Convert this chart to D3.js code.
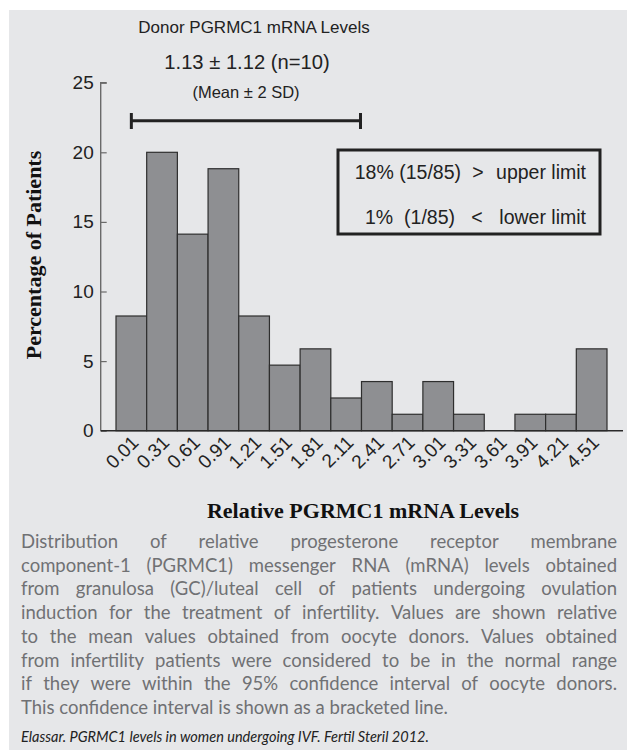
<!DOCTYPE html>
<html><head><meta charset="utf-8">
<script src="https://cdn.jsdelivr.net/npm/d3@7"></script>
<style>
html,body{margin:0;padding:0;background:#fff;}
svg{display:block;}
</style></head>
<body>
<svg id="chart" width="627" height="750"></svg>
<script>
// ---- data ----
const binLabels = ["0.01","0.31","0.61","0.91","1.21","1.51","1.81","2.11","2.41","2.71","3.01","3.31","3.61","3.91","4.21","4.51"];
const binStarts = [0.01,0.31,0.61,0.91,1.21,1.51,1.81,2.11,2.41,2.71,3.01,3.31,3.61,3.91,4.21,4.51];
const percentPatients = [8.24,20.0,14.12,18.82,8.24,4.71,5.88,2.35,3.53,1.18,3.53,1.18,0,1.18,1.18,5.88];
const yTicks = [0,5,10,15,20,25];
const donorMean = 1.13, donorSD = 1.12;
const titleLines = ["Donor PGRMC1 mRNA Levels","1.13 ± 1.12 (n=10)","(Mean ± 2 SD)"];
const legendLines = [["18% (15/85)",">","upper limit"],["1%","(1/85)","<","lower limit"]];
const yTitle = "Percentage of Patients";
const xTitle = "Relative PGRMC1 mRNA Levels";
const captionLines = [
 "Distribution of relative progesterone receptor membrane",
 "component-1 (PGRMC1) messenger RNA (mRNA) levels obtained",
 "from granulosa (GC)/luteal cell of patients undergoing ovulation",
 "induction for the treatment of infertility. Values are shown relative",
 "to the mean values obtained from oocyte donors. Values obtained",
 "from infertility patients were considered to be in the normal range",
 "if they were within the 95% confidence interval of oocyte donors.",
 "This confidence interval is shown as a bracketed line."
];
const sourceText = "Elassar. PGRMC1 levels in women undergoing IVF. Fertil Steril 2012.";

// ---- drawing ----
const svg = d3.select("#chart");
svg.append("rect").attr("x",9).attr("y",10).attr("width",618).attr("height",740).attr("fill","#e6e7e9");

const binW = 0.3;
const x = d3.scaleLinear().domain([binStarts[0]-binW/2, binStarts[binStarts.length-1]+binW/2]).range([116, 607]);
const y = d3.scaleLinear().domain([0,25]).range([430.7, 82.7]);

const g = svg.append("g");
g.selectAll("rect.bar").data(percentPatients).join("rect")
 .attr("class","bar")
 .attr("x",(d,i)=>x(binStarts[i]-binW/2))
 .attr("width",(d,i)=>x(binStarts[i]+binW/2)-x(binStarts[i]-binW/2))
 .attr("y",d=>y(d))
 .attr("height",d=>y(0)-y(d))
 .attr("fill","#8e8f92")
 .attr("stroke",d=>d>0?"#2e2e2e":"none")
 .attr("stroke-width",1.2);

const sans = "Liberation Sans, Arial, sans-serif";
// y axis
const yAxis = d3.axisRight(y).tickValues(yTicks).tickSize(6).tickFormat(d3.format("d"));
const ya = g.append("g").attr("transform","translate(100.7,0)").call(yAxis);
ya.select(".domain").attr("stroke","#6a6a6a").attr("stroke-width",1.4).attr("d","M6,82.7H0V430.7");
ya.selectAll(".tick line").attr("stroke","#6a6a6a").attr("stroke-width",1.2);
ya.selectAll(".tick text").attr("x",-7).attr("text-anchor","end")
  .attr("font-family",sans).attr("font-size",19).attr("fill","#222");

// x axis
const xAxis = d3.axisBottom(x).tickValues(binStarts).tickSize(0).tickFormat((d,i)=>binLabels[i]);
const xa = g.append("g").attr("transform","translate(0,430.7)").call(xAxis);
xa.select(".domain").attr("stroke","#2a2a2a").attr("stroke-width",1.4).attr("d","M100.7,0H623");
xa.selectAll(".tick text")
  .attr("font-family",sans).attr("font-size",19).attr("fill","#222")
  .attr("text-anchor","end").attr("dy",0)
  .attr("transform","translate(8,13) rotate(-45)").attr("y",0).attr("x",0);

// bracket
const lo = donorMean - donorSD, hi = donorMean + donorSD;
const br = g.append("g").attr("stroke","#222").attr("stroke-width",3);
br.append("line").attr("x1",x(lo)).attr("x2",x(hi)).attr("y1",120.7).attr("y2",120.7);
br.append("line").attr("x1",x(lo)).attr("x2",x(lo)).attr("y1",113).attr("y2",129);
br.append("line").attr("x1",x(hi)).attr("x2",x(hi)).attr("y1",113).attr("y2",129);

// titles
const tpos = [[254,33,17],[247,69,20.2],[246,98,16.5]];
titleLines.forEach((t,i)=>{
  svg.append("text").attr("x",tpos[i][0]).attr("y",tpos[i][1]).attr("text-anchor","middle")
   .attr("font-family",sans).attr("font-size",tpos[i][2]).attr("fill","#222").text(t);
});

// legend box
svg.append("rect").attr("x",338).attr("y",150).attr("width",262).attr("height",84)
  .attr("fill","none").attr("stroke","#222").attr("stroke-width",3);
const lg = svg.append("g").attr("font-family",sans).attr("font-size",19.5).attr("fill","#222");
lg.append("text").attr("x",461).attr("y",179).attr("text-anchor","end").text(legendLines[0][0]);
lg.append("text").attr("x",478).attr("y",179).attr("text-anchor","middle").text(legendLines[0][1]);
lg.append("text").attr("x",586).attr("y",179).attr("text-anchor","end").text(legendLines[0][2]);
lg.append("text").attr("x",365).attr("y",224).attr("text-anchor","start").text(legendLines[1][0]);
lg.append("text").attr("x",455).attr("y",224).attr("text-anchor","end").text(legendLines[1][1]);
lg.append("text").attr("x",477).attr("y",224).attr("text-anchor","middle").text(legendLines[1][2]);
lg.append("text").attr("x",586).attr("y",224).attr("text-anchor","end").text(legendLines[1][3]);

// axis titles
const serif = "Liberation Serif, Times New Roman, serif";
svg.append("text").attr("transform","translate(41,255) rotate(-90)").attr("text-anchor","middle")
  .attr("font-family",serif).attr("font-weight","bold").attr("font-size",22).attr("fill","#111").text(yTitle);
svg.append("text").attr("x",363).attr("y",518).attr("text-anchor","middle")
  .attr("font-family",serif).attr("font-weight","bold").attr("font-size",22).attr("fill","#111").text(xTitle);

// caption, justified word by word
const capLeft = 21, capRight = 617, capFont = "Lato, sans-serif", capSize = 18.5;
const capY0 = 548, capDy = 23.7;
const measure = svg.append("text").attr("font-family",capFont).attr("font-size",capSize).attr("visibility","hidden");
function wordWidth(w){ measure.text(w); return measure.node().getComputedTextLength(); }
const capG = svg.append("g").attr("font-family",capFont).attr("font-size",capSize).attr("fill","#707174");
captionLines.forEach((line,i)=>{
  const words = line.split(" ");
  const widths = words.map(wordWidth);
  const total = d3.sum(widths);
  const last = i===captionLines.length-1;
  const gap = last ? wordWidth("a b")-wordWidth("ab") : (capRight-capLeft-total)/(words.length-1);
  let cx = capLeft;
  words.forEach((w,j)=>{
    capG.append("text").attr("x",cx).attr("y",capY0+i*capDy).text(w);
    cx += widths[j]+gap;
  });
});
measure.remove();
svg.append("text").attr("x",capLeft).attr("y",742).attr("font-family",capFont).attr("font-style","italic")
  .attr("font-size",14.5).attr("fill","#222").text(sourceText);
</script>
</body></html>
